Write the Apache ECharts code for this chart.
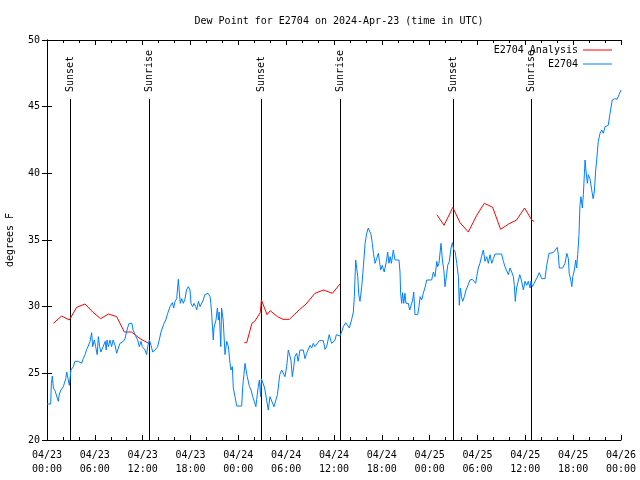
<!DOCTYPE html>
<html><head><meta charset="utf-8">
<script src="https://cdn.jsdelivr.net/npm/echarts@6/dist/echarts.min.js"></script>
<style>html,body{margin:0;padding:0;background:#fff}#c{width:640px;height:480px}</style>
</head><body><div id="c"></div>
<script>
const FONT = 'DejaVu Sans Mono';
const titleText = 'Dew Point for E2704 on 2024-Apr-23 (time in UTC)';
const xDateLabels = ['04/23','04/23','04/23','04/23','04/24','04/24','04/24','04/24','04/25','04/25','04/25','04/25','04/26'];
const xTimeLabels = ['00:00','06:00','12:00','18:00','00:00','06:00','12:00','18:00','00:00','06:00','12:00','18:00','00:00'];
const yTicks = [20, 25, 30, 35, 40, 45, 50];

// hours since 04/23 00:00 UTC
const sunHours = [2.92, 12.8, 26.88, 36.79, 50.97, 60.75];
const sunLabels = ['Sunset', 'Sunrise', 'Sunset', 'Sunrise', 'Sunset', 'Sunrise'];

const analysisHours = [0.8, 1.84, 2.8, 3.72, 4.77, 5.73, 6.73, 7.7, 8.74, 9.7, 10.6, 11.67, 12.9,
  18,
  24.75, 25.05, 25.7, 26.05, 26.75, 26.9, 27.6, 28.0, 28.9, 29.6, 30.4, 31.7, 32.5, 33.6, 34.7, 35.8, 36.75,
  42,
  48.9, 49.8, 50.9, 51.8, 52.85, 53.9, 54.85, 55.9, 56.9, 57.9, 58.9, 59.9, 60.8, 61.1];
const analysisValues = [28.75, 29.3, 29.0, 29.95, 30.2, 29.6, 29.1, 29.45, 29.25, 28.1, 28.1, 27.6, 27.2,
  null,
  27.3, 27.3, 28.75, 28.9, 29.55, 30.5, 29.4, 29.7, 29.25, 29.05, 29.05, 29.8, 30.2, 31.0, 31.25, 31.0, 31.7,
  null,
  36.9, 36.1, 37.45, 36.3, 35.6, 36.85, 37.75, 37.45, 35.8, 36.2, 36.5, 37.4, 36.5, 36.4];

const obsHours = [0, 0.46, 0.55, 0.67, 0.8, 1.0, 1.2, 1.42, 1.55, 1.75, 2.05, 2.35, 2.47, 2.68, 2.8, 3.0, 3.3, 3.5, 3.7, 3.93,
  4.35, 4.55, 4.77, 4.98, 5.18, 5.4, 5.6, 5.73, 5.94, 6.1, 6.3, 6.44, 6.6, 6.77, 7.0, 7.3, 7.43, 7.53, 7.7, 7.9,
  8.1, 8.3, 8.53, 8.74, 8.95, 9.16, 9.37, 9.57, 9.78, 9.98, 10.1, 10.3, 10.5, 10.65, 10.8, 11.04, 11.2, 11.37, 11.58, 11.79,
  11.95, 12.15, 12.3, 12.5, 12.63, 12.84, 13.05, 13.26, 13.55, 13.88, 14.08, 14.3, 14.5, 14.68, 14.89, 15.14, 15.43, 15.72, 15.89, 16.06,
  16.27, 16.47, 16.6, 16.72, 16.9, 17.1, 17.3, 17.5, 17.72, 17.94, 18.06, 18.27, 18.44, 18.65, 18.78, 18.99, 19.19, 19.4, 19.6, 19.8,
  20.2, 20.45, 20.55, 20.65, 20.86, 20.94, 21.2, 21.37, 21.5, 21.6, 21.8, 21.9, 22.1, 22.33, 22.54, 22.75, 22.96, 23.08, 23.25, 23.37,
  23.58, 23.8, 24.42, 24.55, 24.7, 24.84, 24.97, 25.12, 25.4, 25.6, 25.8, 26.0, 26.2, 26.3, 26.5, 26.64, 26.8, 26.9, 27.1, 27.3,
  27.55, 27.76, 27.97, 28.18, 28.47, 28.72, 28.9, 29.1, 29.2, 29.44, 29.65, 29.85, 30.06, 30.27, 30.48, 30.6, 30.77, 30.9, 31.1, 31.32,
  31.5, 31.73, 31.94, 32.15, 32.36, 32.57, 32.78, 32.99, 33.2, 33.4, 33.6, 33.83, 34.16, 34.66, 34.87, 35.08, 35.4, 35.7, 36.1, 36.3,
  36.46, 36.75, 36.96, 37.17, 37.47, 37.7, 37.92, 38.2, 38.43, 38.55, 38.72, 38.85, 38.98, 39.1, 39.26, 39.48, 39.7, 39.9, 40.1, 40.3,
  40.5, 40.65, 40.8, 40.95, 41.15, 41.35, 41.56, 41.7, 41.86, 42.05, 42.3, 42.45, 42.6, 42.73, 42.9, 43.05, 43.2, 43.44, 43.65, 44.15,
  44.28, 44.36, 44.49, 44.6, 44.75, 44.9, 45.03, 45.32, 45.5, 45.7, 45.87, 46.0, 46.16, 46.5, 46.66, 46.8, 47.0, 47.2, 47.4, 47.63,
  48.25, 48.46, 48.67, 48.9, 49.0, 49.17, 49.42, 49.6, 49.8, 49.92, 50.13, 50.26, 50.47, 50.68, 50.85, 51.0, 51.2, 51.4, 51.6, 51.72,
  51.85, 52.0, 52.14, 52.35, 52.56, 52.77, 53.06, 53.35, 53.6, 53.77, 53.9, 54.1, 54.3, 54.5, 54.73, 54.94, 55.15, 55.36, 55.57, 55.78,
  55.99, 56.2, 57.03, 57.24, 57.45, 57.66, 57.87, 58.08, 58.29, 58.5, 58.62, 58.74, 58.9, 59.1, 59.3, 59.5, 59.75, 59.96, 60.17, 60.37,
  60.59, 60.7, 60.87, 61.1, 61.4, 61.75, 62.05, 62.47, 62.68, 62.97, 63.5, 63.72, 64.0, 64.14, 64.26, 64.68, 64.98, 65.2, 65.4, 65.5,
  65.7, 65.83, 65.95, 66.15, 66.32, 66.44, 66.57, 66.73, 66.85, 66.98, 67.15, 67.28, 67.49, 67.6, 67.78, 67.9, 68.1, 68.3, 68.5, 68.65,
  68.83, 68.95, 69.15, 69.37, 69.58, 69.78, 70.0, 70.4, 70.6, 70.9, 71.2, 71.5, 71.76, 72.0];
const obsValues = [22.7, 22.7, 24.25, 24.8, 23.9, 23.7, 23.8, 22.9, 23.45, 23.75, 24.0, 24.6, 25.1, 25.1, 24.1, 25.25, 25.5, 25.9, 26.0, 25.9,
  25.75, 26.1, 26.4, 26.8, 27.05, 27.4, 28.05, 27.0, 27.5, 27.0, 26.4, 27.75, 27.0, 26.6, 26.6, 27.4, 26.75, 27.5, 27.0, 27.5,
  27.0, 27.5, 27.1, 26.5, 26.9, 27.25, 27.3, 27.4, 27.6, 27.6, 28.4, 28.75, 28.9, 28.75, 28.25, 27.9, 28.0, 27.5, 27.0, 27.4,
  27.0, 27.1, 26.75, 26.4, 27.0, 27.5, 27.1, 26.6, 26.75, 27.0, 27.5, 28.1, 28.1, 28.75, 29.0, 29.5, 30.0, 30.3, 29.9, 30.4,
  30.6, 32.05, 31.1, 30.25, 30.6, 30.25, 30.55, 31.25, 31.5, 31.25, 30.25, 30.0, 30.25, 30.0, 29.75, 30.4, 30.0, 30.1, 30.5, 30.9,
  31.0, 30.75, 30.25, 29.5, 27.5, 28.4, 29.0, 29.9, 29.0, 29.6, 27.0, 29.9, 29.0, 26.4, 27.4, 27.0, 25.75, 25.25, 25.5, 23.9,
  23.25, 22.55, 22.55, 24.0, 24.9, 25.75, 25.25, 24.75, 24.0, 23.75, 23.25, 22.9, 22.5, 23.05, 24.0, 24.5, 23.25, 24.6, 24.75, 23.9,
  23.0, 22.25, 23.25, 23.1, 22.5, 22.5, 23.4, 24.4, 24.9, 25.25, 25.25, 24.75, 25.5, 26.75, 26.9, 26.0, 24.75, 25.25, 26.25, 26.5,
  25.9, 26.75, 26.6, 26.75, 26.1, 26.5, 26.6, 27.1, 26.9, 27.25, 27.0, 27.1, 27.45, 27.45, 26.8, 27.0, 27.9, 27.25, 27.45, 27.9,
  27.8, 27.8, 28.1, 28.5, 28.8, 28.75, 28.4, 29.0, 29.6, 30.75, 33.5, 32.9, 32.25, 30.9, 30.4, 31.5, 33.1, 34.75, 35.5, 35.9,
  35.85, 35.4, 34.75, 34.0, 33.25, 33.6, 34.0, 33.4, 32.75, 33.1, 32.6, 32.6, 33.5, 34.1, 33.25, 33.75, 33.25, 34.25, 33.5, 33.5,
  32.6, 31.0, 30.25, 31.05, 30.25, 31.0, 30.25, 30.25, 29.75, 29.9, 30.5, 31.1, 29.4, 29.4, 30.0, 30.75, 30.5, 31.0, 31.4, 32.0,
  32.0, 32.6, 32.25, 33.4, 33.0, 33.25, 34.75, 33.5, 32.6, 31.5, 32.4, 33.1, 33.4, 34.4, 34.8, 34.3, 34.1, 33.25, 32.25, 30.1,
  31.4, 30.75, 30.4, 30.75, 31.25, 31.55, 32.0, 32.05, 32.0, 31.75, 32.25, 32.9, 33.25, 33.75, 34.25, 33.4, 33.75, 33.25, 33.9, 33.25,
  33.6, 33.95, 33.95, 33.4, 33.0, 32.9, 32.4, 32.9, 32.6, 32.25, 31.6, 30.4, 31.4, 31.9, 32.4, 32.0, 31.25, 31.9, 31.6, 31.9,
  31.4, 31.9, 31.5, 31.75, 32.1, 32.55, 32.1, 32.1, 33.1, 34.0, 34.05, 34.1, 34.45, 33.9, 32.9, 32.9, 33.25, 34.0, 33.6, 32.5,
  32.0, 31.5, 32.25, 32.75, 33.5, 32.9, 33.9, 35.4, 37.6, 38.25, 37.4, 38.4, 41.0, 40.25, 39.25, 39.9, 39.6, 39.5, 38.1, 38.6,
  40.25, 41.0, 42.4, 43.0, 43.25, 43.0, 43.5, 43.6, 44.4, 45.5, 45.6, 45.55, 45.9, 46.25];

function pairs(hs, vs) { return hs.map((h, i) => [h, vs[i] == null ? '-' : vs[i]]); }

const chart = echarts.init(document.getElementById('c'), null, { renderer: 'canvas' });
const tickCommon = {
  axisLine: { show: true, lineStyle: { color: '#000', width: 1 } },
  splitLine: { show: false }
};
const xBase = Object.assign({}, tickCommon, {
  type: 'value', min: 0, max: 72, interval: 6,
  axisTick: { show: true, inside: true, length: 5, lineStyle: { color: '#000' } },
  minorTick: { show: true, splitNumber: 3, length: 3, lineStyle: { color: '#000' } },
  minorSplitLine: { show: false }
});
const yBase = Object.assign({}, tickCommon, {
  type: 'value', min: yTicks[0], max: yTicks[yTicks.length - 1], interval: 5,
  axisTick: { show: true, inside: true, length: 5, lineStyle: { color: '#000' } }
});

chart.setOption({
  animation: false,
  backgroundColor: '#fff',
  textStyle: { fontFamily: FONT },
  title: {
    text: titleText, left: 334, top: 11, textAlign: 'center',
    textStyle: { fontFamily: FONT, fontSize: 10, fontWeight: 'normal', color: '#000' }
  },
  grid: { left: 47, right: 19, top: 40, bottom: 40, containLabel: false, outerBoundsMode: 'none' },
  legend: {
    data: [
      { name: 'E2704 Analysis', icon: 'rect', itemStyle: { color: '#ff0000' } },
      { name: 'E2704', icon: 'rect', itemStyle: { color: '#0080ff' } }
    ],
    orient: 'vertical', align: 'right',
    right: 28, top: 45, padding: 0, itemWidth: 29, itemHeight: 1, itemGap: 4,
    textStyle: { fontFamily: FONT, fontSize: 10, color: '#000' }
  },
  xAxis: [
    Object.assign({}, xBase, {
      position: 'bottom',
      axisLabel: {
        show: true, margin: 8, color: '#000', fontFamily: FONT, fontSize: 10, lineHeight: 14,
        showMinLabel: true, showMaxLabel: true,
        formatter: function (v) { const i = Math.round(v / 6); return xDateLabels[i] + '\n' + xTimeLabels[i]; }
      }
    }),
    Object.assign({}, xBase, { position: 'top', axisLabel: { show: false } })
  ],
  yAxis: [
    Object.assign({}, yBase, {
      position: 'left',
      name: 'degrees F', nameLocation: 'middle', nameGap: 32, nameRotate: 90,
      nameTextStyle: { fontFamily: FONT, fontSize: 10, color: '#000' },
      axisLabel: { show: true, margin: 7, color: '#000', fontFamily: FONT, fontSize: 10 }
    }),
    Object.assign({}, yBase, { position: 'right', axisLabel: { show: false } })
  ],
  series: [
    {
      type: 'custom', name: 'sun', xAxisIndex: 0, yAxisIndex: 0, clip: false, z: 3,
      data: sunHours.map((h, i) => [h, i]),
      renderItem: function (params, api) {
        const h = api.value(0);
        const top = api.coord([h, yTicks[yTicks.length - 1]]);
        const bot = api.coord([h, yTicks[0]]);
        return {
          type: 'group', children: [
            { type: 'line', shape: { x1: Math.round(top[0]) + 0.5, y1: top[1] + 59, x2: Math.round(top[0]) + 0.5, y2: bot[1] },
              style: { stroke: '#000', lineWidth: 1 } },
            { type: 'text', x: Math.round(top[0]) + 0.5, y: top[1] + 52, rotation: Math.PI / 2,
              style: { text: sunLabels[params.dataIndex], font: '10px ' + FONT, fill: '#000', align: 'left', verticalAlign: 'middle' } }
          ]
        };
      }
    },
    {
      type: 'line', name: 'E2704 Analysis', data: pairs(analysisHours, analysisValues),
      showSymbol: false, symbol: 'none', connectNulls: false, z: 4,
      lineStyle: { color: '#ff0000', width: 1 }, itemStyle: { color: '#ff0000' }
    },
    {
      type: 'line', name: 'E2704', data: pairs(obsHours, obsValues),
      showSymbol: false, symbol: 'none', z: 4,
      lineStyle: { color: '#0080ff', width: 1 }, itemStyle: { color: '#0080ff' }
    }
  ]
});
</script>
</body></html>
